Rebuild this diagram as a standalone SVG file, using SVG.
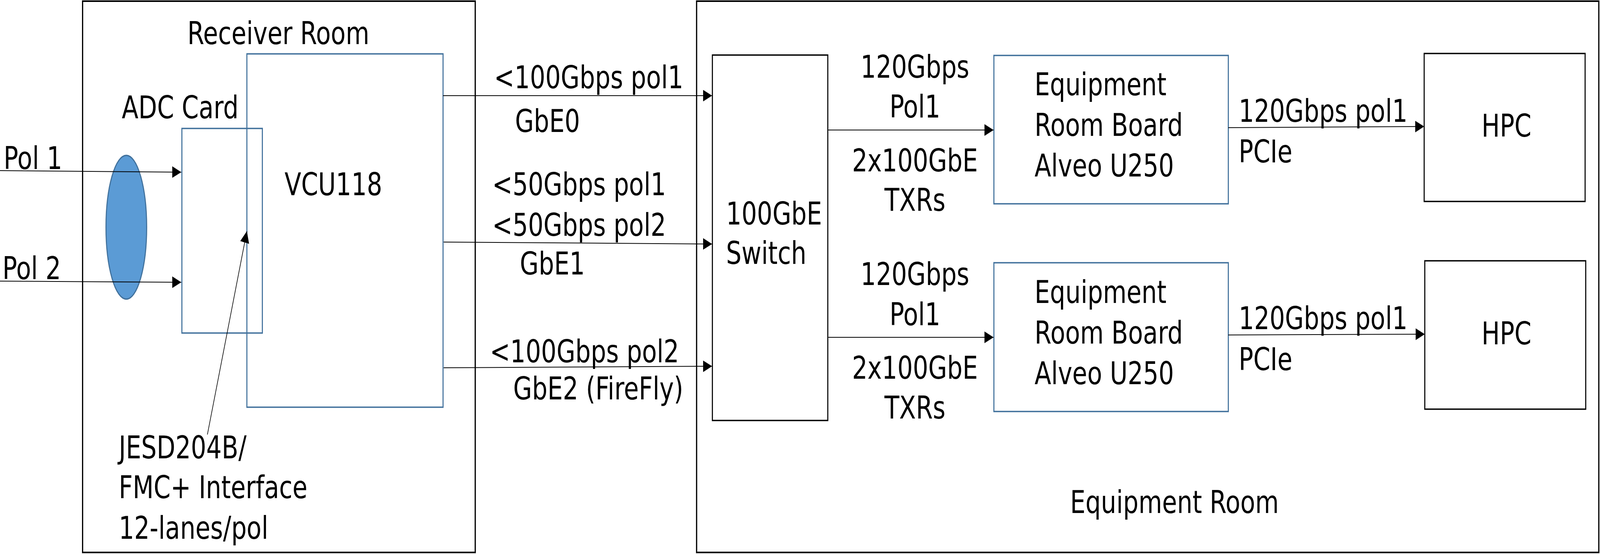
<svg xmlns="http://www.w3.org/2000/svg" width="5269" height="1419" viewBox="0 0 5269 1419" preserveAspectRatio="none">
<defs>
<marker id="arr" markerUnits="userSpaceOnUse" markerWidth="30" markerHeight="30" viewBox="0 0 27 27" refX="27" refY="13.5" orient="auto">
<path d="M0 0 L27 13.5 L0 27 Z" fill="#000"/>
</marker>
<style>
svg{width:100vw;height:100vh}
.room{fill:none;stroke:#000;stroke-width:4}
.blk{fill:#fff;stroke:#000;stroke-width:3.5}
.blue{fill:none;stroke:#41719C;stroke-width:3.5}
.conn{fill:none;stroke:#000;stroke-width:2;marker-end:url(#arr)}
text{font-family:"DejaVu Sans","Liberation Sans",sans-serif;font-size:80px;fill:#000}
.mid{text-anchor:middle}
</style>
</defs>
<rect width="5269" height="1419" fill="#fff"/>
<g id="receiver-room">
<rect class="room" x="272" y="3" width="1293" height="1412"/>
<text x="617" y="113">Receiver Room</text>
</g>
<g id="equipment-room">
<rect class="room" x="2294" y="3" width="2971" height="1412"/>
<text x="3524" y="1314">Equipment Room</text>
</g>
<g id="vcu118">
<rect class="blue" x="813" y="138" width="646" height="905"/>
<text x="937" y="500">VCU118</text>
</g>
<g id="adc-card">
<rect class="blue" x="599" y="329" width="265" height="524"/>
<text x="401" y="303">ADC Card</text>
</g>
<g id="splitter">
<ellipse cx="416" cy="582" rx="67" ry="184" fill="#5B9BD5" stroke="#41719C" stroke-width="3.5"/>
</g>
<g id="switch">
<rect class="blk" x="2346" y="141" width="380" height="936"/>
<text x="2391" y="575">100GbE</text>
<text x="2391" y="676">Switch</text>
</g>
<g id="board1">
<rect class="blue" x="3273" y="142" width="772" height="380"/>
<text x="3407" y="244">Equipment</text>
<text x="3407" y="348">Room Board</text>
<text x="3407" y="452">Alveo U250</text>
</g>
<g id="board2">
<rect class="blue" x="3273" y="673" width="772" height="381"/>
<text x="3407" y="776">Equipment</text>
<text x="3407" y="880">Room Board</text>
<text x="3407" y="984">Alveo U250</text>
</g>
<g id="hpc1">
<rect class="blk" x="4690" y="137" width="530" height="379"/>
<text class="mid" x="4961" y="350">HPC</text>
</g>
<g id="hpc2">
<rect class="blk" x="4692" y="668" width="530" height="380"/>
<text class="mid" x="4961" y="882">HPC</text>
</g>
<g id="connectors">
<path class="conn" d="M0 437 L597 441"/>
<path class="conn" d="M0 720 L597 723"/>
<path class="conn" d="M683 1113 L813 592"/>
<path class="conn" d="M1459 245 L2345 245"/>
<path class="conn" d="M1461 620 L2345 625"/>
<path class="conn" d="M1461 942 L2345 938"/>
<path class="conn" d="M2726 333 L3272 333"/>
<path class="conn" d="M2726 864 L3272 864"/>
<path class="conn" d="M4045 327 L4690 324"/>
<path class="conn" d="M4045 858 L4692 856"/>
</g>
<g id="labels">
<text x="12" y="433">Pol 1</text>
<text x="8" y="715">Pol 2</text>
<text x="391" y="1174">JESD204B/</text>
<text x="391" y="1276">FMC+ Interface</text>
<text x="391" y="1380">12-lanes/pol</text>
<text x="1627" y="226">&lt;100Gbps pol1</text>
<text x="1696" y="338">GbE0</text>
<text x="1621" y="500">&lt;50Gbps pol1</text>
<text x="1621" y="604">&lt;50Gbps pol2</text>
<text x="1712" y="703">GbE1</text>
<text x="1613" y="928">&lt;100Gbps pol2</text>
<text x="1690" y="1023">GbE2 (FireFly)</text>
<text class="mid" x="3013" y="199">120Gbps</text>
<text class="mid" x="3013" y="301">Pol1</text>
<text class="mid" x="3013" y="439">2x100GbE</text>
<text class="mid" x="3013" y="540">TXRs</text>
<text class="mid" x="3013" y="730">120Gbps</text>
<text class="mid" x="3013" y="833">Pol1</text>
<text class="mid" x="3013" y="970">2x100GbE</text>
<text class="mid" x="3013" y="1072">TXRs</text>
<text x="4079" y="312">120Gbps pol1</text>
<text x="4079" y="416">PCIe</text>
<text x="4079" y="843">120Gbps pol1</text>
<text x="4079" y="948">PCIe</text>
</g>
</svg>
